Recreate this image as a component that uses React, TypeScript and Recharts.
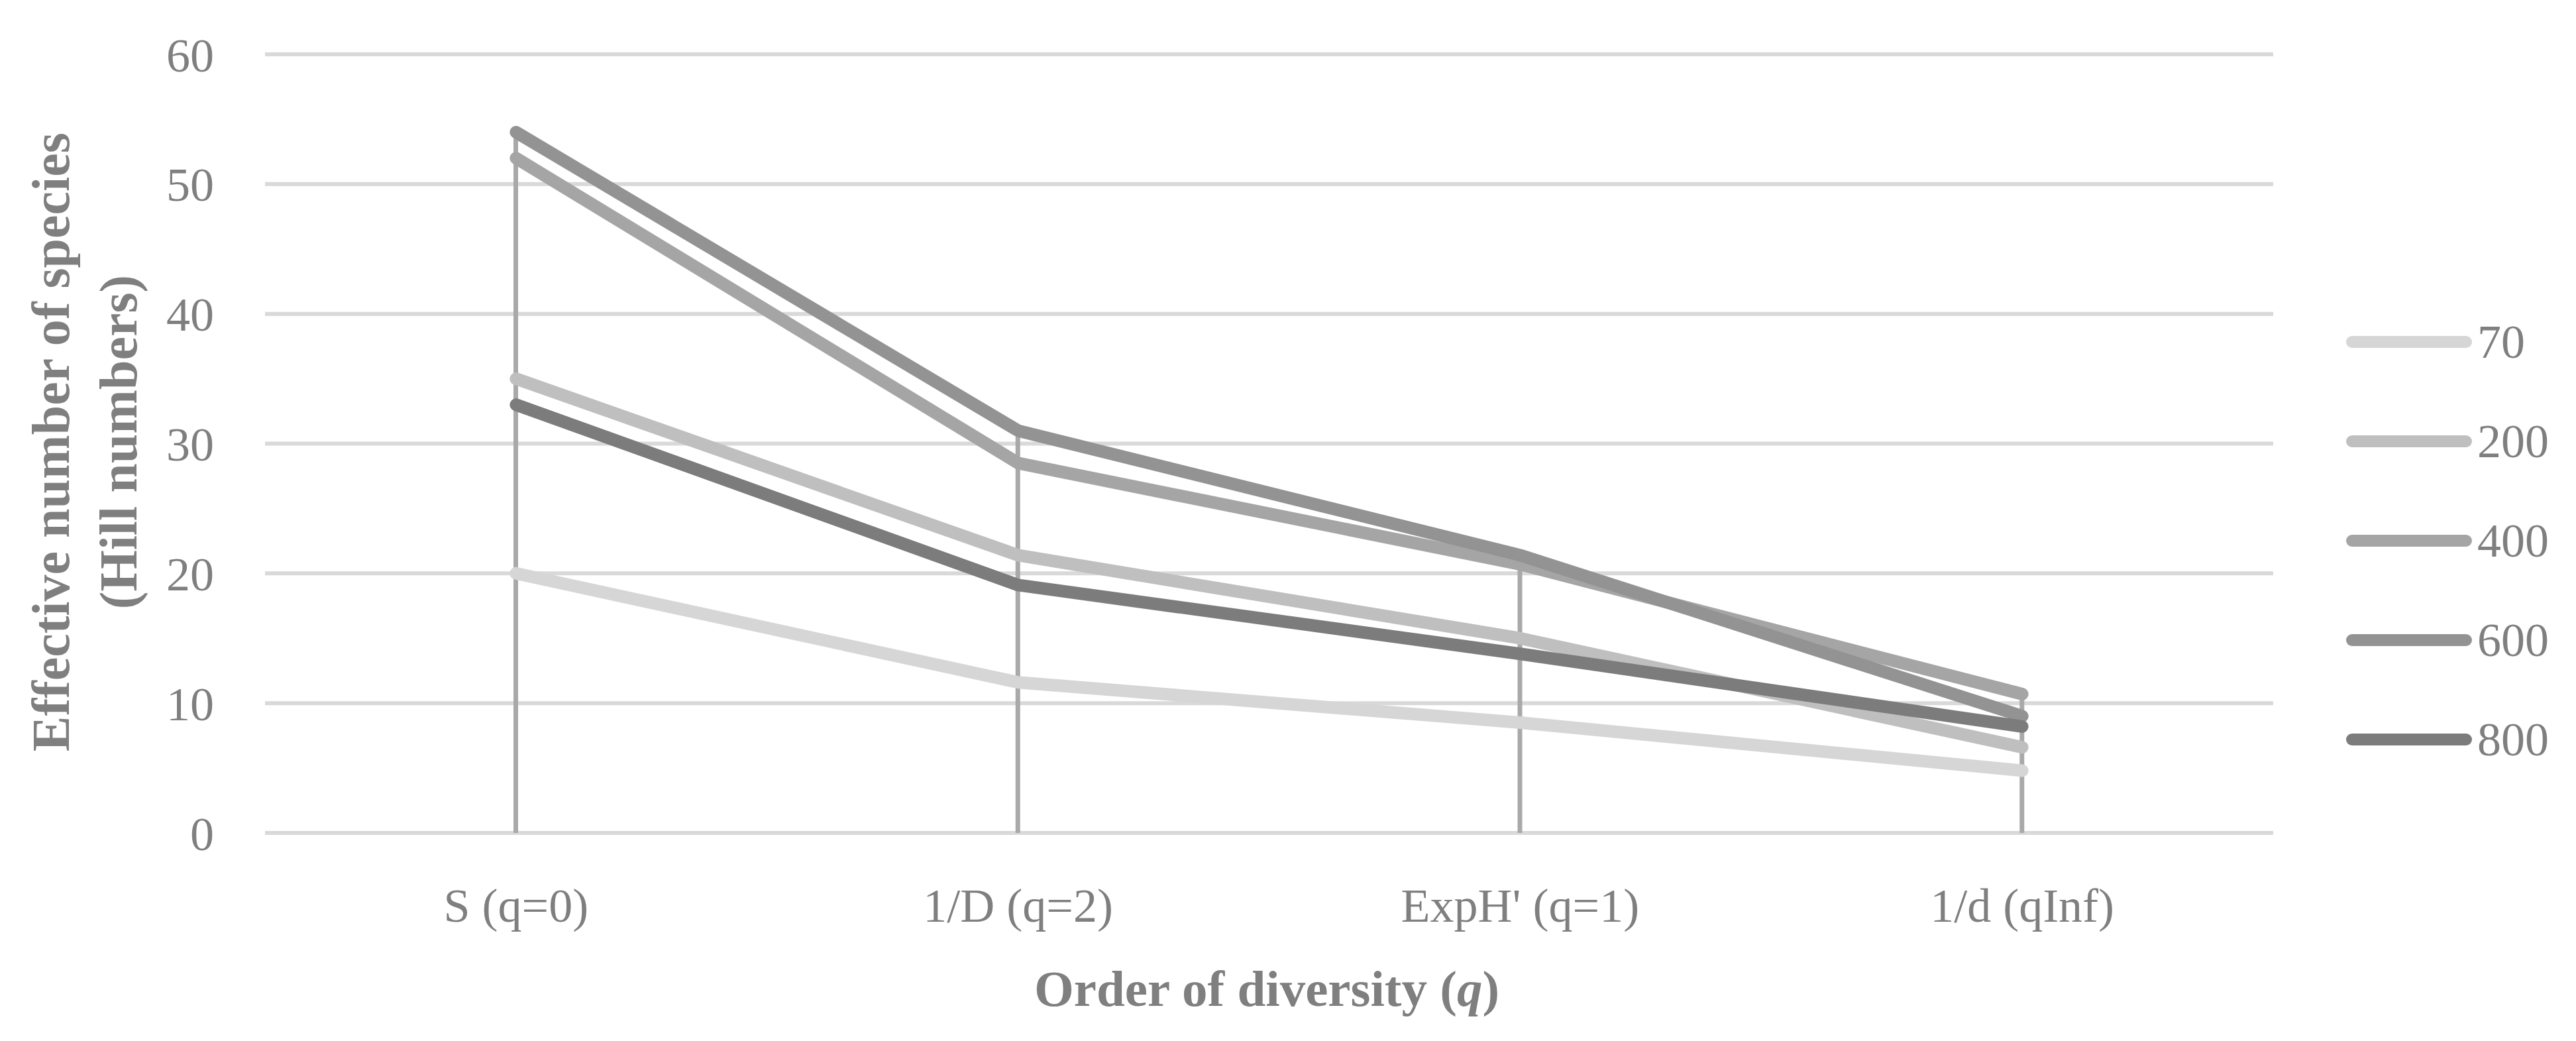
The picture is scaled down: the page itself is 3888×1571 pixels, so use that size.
import {
  ComposedChart,
  Line,
  Bar,
  XAxis,
  YAxis,
  CartesianGrid,
} from "recharts";

const categories = ["S (q=0)", "1/D (q=2)", "ExpH' (q=1)", "1/d (qInf)"];

const s70 = [20, 11.6, 8.5, 4.8];
const s200 = [35, 21.4, 15.0, 6.6];
const s400 = [52, 28.5, 20.7, 10.7];
const s600 = [54, 31, 21.4, 9.0];
const s800 = [33, 19.1, 13.8, 8.2];

const seriesNames = ["70", "200", "400", "600", "800"];
const seriesValues = [s70, s200, s400, s600, s800];
const seriesColors = ["#d6d6d6", "#bfbfbf", "#a5a5a5", "#939393", "#7c7c7c"];

const yTicks = [0, 10, 20, 30, 40, 50, 60];

const FONT = "'Liberation Serif', 'Times New Roman', serif";
const TEXT = "#7f7f7f";

// drop line goes from the highest series value down to the axis
const data = categories.map((cat, i) => {
  const row: Record<string, string | number> = { cat };
  seriesNames.forEach((name, s) => {
    row[name] = seriesValues[s][i];
  });
  row.drop = Math.max(...seriesValues.map((v) => v[i]));
  return row;
});

const YTitle = () => (
  <g fontFamily={FONT} fontWeight="bold" fontSize={80} fill={TEXT}>
    <text transform="translate(104,667) rotate(-90)" textAnchor="middle">
      Effective number of species
    </text>
    <text transform="translate(206,667) rotate(-90)" textAnchor="middle">
      (Hill numbers)
    </text>
  </g>
);

const XTitle = () => (
  <text
    x={1912}
    y={1518}
    textAnchor="middle"
    fontFamily={FONT}
    fontWeight="bold"
    fontSize={77}
    fill={TEXT}
  >
    Order of diversity (<tspan fontStyle="italic">q</tspan>)
  </text>
);

const LegendBox = () => (
  <div
    style={{
      position: "absolute",
      left: 3541,
      top: 441,
      fontFamily: FONT,
      color: TEXT,
      fontSize: 72,
    }}
  >
    {seriesNames.map((name, i) => (
      <div
        key={name}
        style={{ height: 150, display: "flex", alignItems: "center" }}
      >
        <svg width={198} height={30} style={{ display: "block" }}>
          <line
            x1={9}
            y1={15}
            x2={181}
            y2={15}
            stroke={seriesColors[i]}
            strokeWidth={18}
            strokeLinecap="round"
          />
        </svg>
        <span style={{ lineHeight: 1 }}>{name}</span>
      </div>
    ))}
  </div>
);

const App = () => {
  return (
    <div
      style={{
        position: "relative",
        width: 3888,
        height: 1571,
        background: "#fff",
      }}
    >
      <style>{`body{margin:0}`}</style>
      <ComposedChart
        width={3888}
        height={1571}
        data={data}
        margin={{ top: 82, right: 457, bottom: 0, left: 0 }}
      >
        <CartesianGrid vertical={false} stroke="#d9d9d9" strokeWidth={6} />
        <XAxis
          dataKey="cat"
          height={314}
          axisLine={false}
          tickLine={false}
          tickMargin={77}
          interval={0}
          tick={{ fontFamily: FONT, fontSize: 72, fill: TEXT }}
          label={<XTitle />}
        />
        <YAxis
          width={400}
          domain={[0, 60]}
          ticks={yTicks}
          interval={0}
          axisLine={false}
          tickLine={false}
          tickMargin={71}
          tick={{ fontFamily: FONT, fontSize: 72, fill: TEXT }}
          label={<YTitle />}
        />
        {seriesNames.map((name, i) => (
          <Line
            key={name}
            dataKey={name}
            stroke={seriesColors[i]}
            strokeWidth={19}
            strokeLinecap="round"
            strokeLinejoin="round"
            dot={false}
            activeDot={false}
            isAnimationActive={false}
          />
        ))}
        <Bar
          dataKey="drop"
          barSize={7}
          fill="#a9a9a9"
          isAnimationActive={false}
        />
      </ComposedChart>
      <LegendBox />
    </div>
  );
};

export default App;
